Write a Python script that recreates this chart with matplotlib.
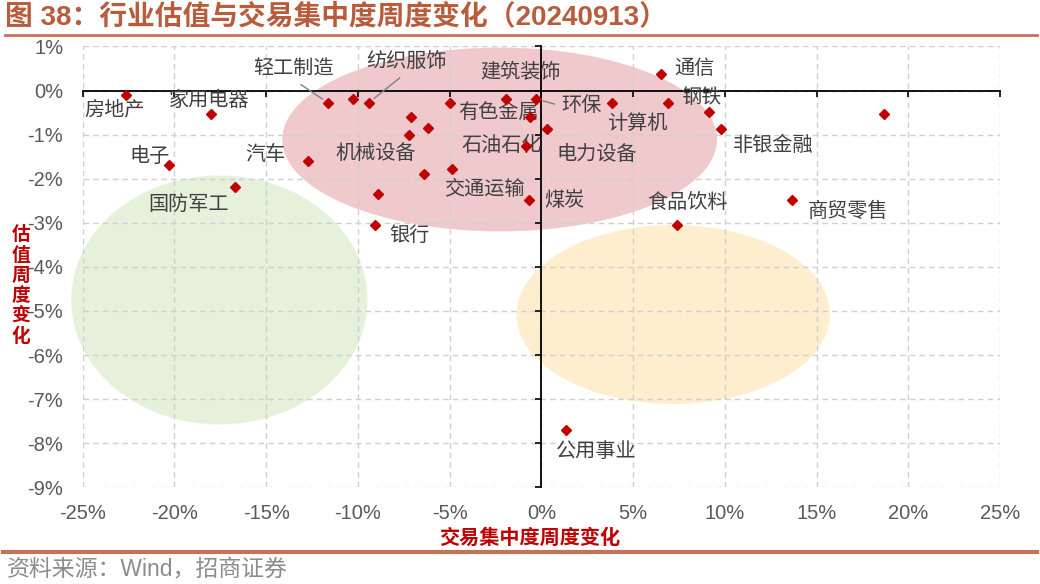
import numpy as np
import matplotlib.pyplot as plt
from matplotlib.patches import Ellipse
from matplotlib.lines import Line2D
from matplotlib.ticker import PercentFormatter

plt.rcParams['font.family'] = ['Liberation Sans', 'Noto Sans CJK SC', 'DejaVu Sans']
plt.rcParams['axes.unicode_minus'] = False

# industry names ('' = point without a label in the source chart)
industries = ['房地产', '家用电器', '电子', '国防军工', '汽车', '轻工制造', '', '纺织服饰',
              '', '', '机械设备', '', '交通运输', '', '建筑装饰', '环保', '有色金属',
              '石油石化', '煤炭', '', '银行', '电力设备', '计算机', '通信', '钢铁', '',
              '非银金融', '', '食品饮料', '商贸零售', '公用事业']
# weekly change of trading concentration (%)
conc_chg = [-22.64, -18.00, -20.28, -16.68, -12.73, -11.62, -10.24, -9.42,
            -7.13, -6.19, -7.19, -6.37, -4.86, -4.96, -1.95, -0.27, -0.64,
            -0.86, -0.68, -8.91, -9.09, 0.33, 3.87, 6.55, 6.93, 9.14,
            9.82, 18.69, 7.42, 13.69, 1.33]
# weekly change of valuation (%)
val_chg = [-0.09, -0.54, -1.69, -2.18, -1.59, -0.28, -0.19, -0.28,
           -0.60, -0.85, -1.00, -1.89, -1.79, -0.28, -0.18, -0.19, -0.61,
           -1.25, -2.49, -2.34, -3.04, -0.88, -0.28, 0.37, -0.28, -0.49,
           -0.88, -0.54, -3.04, -2.49, -7.69]

x_ticks = np.arange(-25, 26, 5)
y_ticks = np.arange(-9, 2, 1)

# label offsets in pixels from the marker
label_offsets = {
    '房地产': (-11, -15), '家用电器': (-2, 14), '电子': (-20, 9), '国防军工': (-47, -18),
    '汽车': (-42, 6), '轻工制造': (-35, 34), '纺织服饰': (38, 41), '机械设备': (-34, -19),
    '银行': (35, -11), '建筑装饰': (15, 26), '有色金属': (-31, 5), '环保': (45, -7),
    '石油石化': (-24, 0), '交通运输': (32, -20), '煤炭': (36, 0), '电力设备': (49, -25),
    '通信': (33, 6), '钢铁': (33, 5), '计算机': (25, -21), '非银金融': (52, -16),
    '食品饮料': (10, 22), '商贸零售': (56, -11), '公用事业': (30, -22),
}
leaders = {'轻工制造': (0.5, 0), '纺织服饰': (0.5, 0), '环保': (0, 0.5)}

# highlighted zones: (center x, center y, width, height, colour)
zones = [(-2.27, -1.11, 23.7, 4.17, '#EFC9CC'),
         (-17.55, -4.75, 16.15, 5.65, '#E6F1DC'),
         (7.19, -5.08, 17.08, 4.06, '#FEEECD')]

fig = plt.figure(figsize=(10.4, 5.84), dpi=100)
rect = [0.0795, 0.1656, 0.882, 0.7548]
ax_bg = fig.add_axes(rect)
ax = fig.add_axes(rect, sharex=ax_bg, sharey=ax_bg)
ax.patch.set_visible(False)

ax_bg.set_xlim(-25, 25)
ax_bg.set_ylim(-9, 1)
ax_bg.set_xticks(x_ticks)
ax_bg.set_yticks(y_ticks)
ax_bg.xaxis.set_major_formatter(PercentFormatter(decimals=0))
ax_bg.yaxis.set_major_formatter(PercentFormatter(decimals=0))
for s in ax_bg.spines.values():
    s.set_visible(False)
ax_bg.set_axisbelow(True)
ax_bg.grid(True, color='#CFCFCF', linestyle=(0, (4, 3)), linewidth=1)
ax_bg.tick_params(axis='x', length=0, pad=12, labelsize=14.5, labelcolor='#595959')
ax_bg.tick_params(axis='y', length=0, pad=14, labelsize=14.5, labelcolor='#595959')

for cx, cy, w, h, c in zones:
    ax_bg.add_patch(Ellipse((cx, cy), w, h, facecolor=c, edgecolor='none',
                            zorder=0.2, clip_on=False))

for s in ['top', 'right']:
    ax.spines[s].set_visible(False)
for s in ['left', 'bottom']:
    ax.spines[s].set_position(('data', 0))
    ax.spines[s].set_linewidth(1.3)
    ax.spines[s].set_color('black')
ax.tick_params(direction='out', length=4, width=1.2, color='black',
               labelleft=False, labelbottom=False)

ax.plot(conc_chg, val_chg, linestyle='none', marker='D', markersize=5.2,
        color='#C00000', zorder=4)

for name, x, y in zip(industries, conc_chg, val_chg):
    if not name:
        continue
    dx, dy = label_offsets[name]
    kw = {}
    if name in leaders:
        kw['arrowprops'] = dict(arrowstyle='-', color='#808080', lw=1,
                                relpos=leaders[name], shrinkA=3, shrinkB=5)
    ax.annotate(name, (x, y), xytext=(dx, dy), textcoords='offset pixels',
                ha='center', va='center', fontsize=14.5, color='#404040',
                family=['Noto Sans CJK SC', 'DejaVu Sans'], zorder=3, **kw)

title_color = '#B85C3C'
line_color = '#C4735A'
fig.text(0.005, 1 - 17 / 584, '图 38：行业估值与交易集中度周度变化（20240913）',
         fontsize=20, fontweight='bold', color=title_color, ha='left', va='center')
fig.add_artist(Line2D([0.005, 0.997], [1 - 35 / 584] * 2, color=line_color,
                      linewidth=2, transform=fig.transFigure))
fig.add_artist(Line2D([0.003, 0.997], [1 - 552 / 584] * 2, color=line_color,
                      linewidth=3, transform=fig.transFigure))
fig.text(0.007, 1 - 570 / 584, '资料来源：Wind，招商证券', fontsize=16.5,
         color='#8C8C8C', ha='left', va='center')

fig.text(530 / 1040, 1 - 538 / 584, '交易集中度周度变化', fontsize=14.5,
         fontweight='bold', color='#C00000', ha='center', va='center')
fig.text(21 / 1040, 1 - 286 / 584, '\n'.join('估值周度变化'), fontsize=13.5,
         fontweight='bold', color='#C00000', ha='center', va='center',
         linespacing=1.2)

fig.savefig('out.png', dpi=100)
